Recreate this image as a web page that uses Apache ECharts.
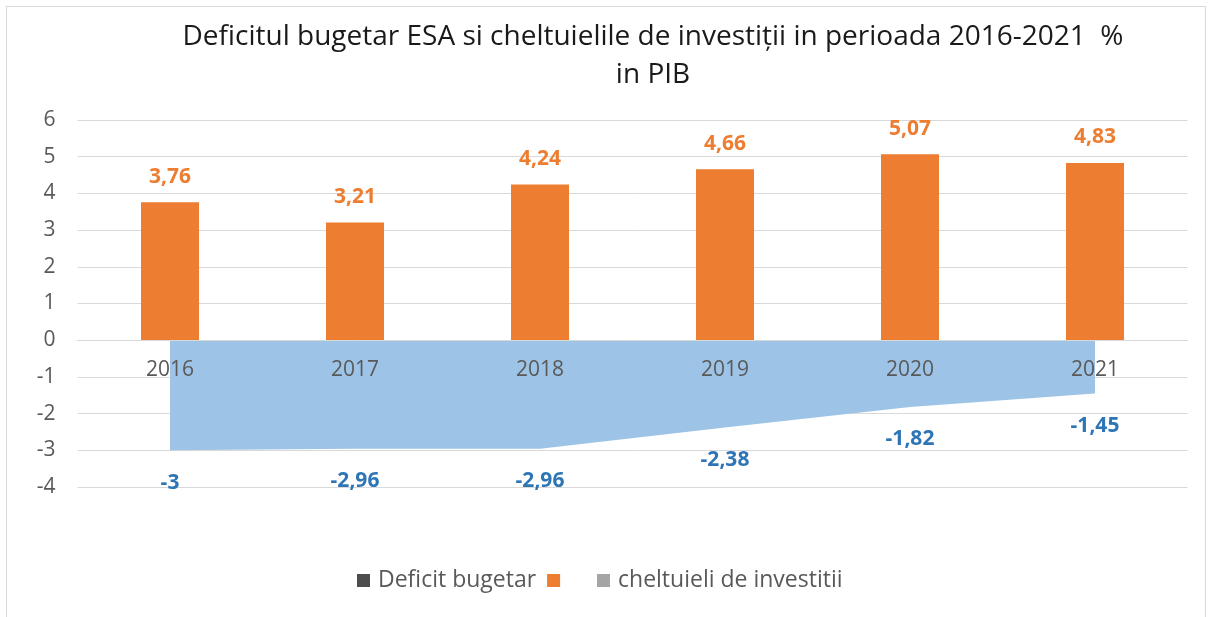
<!DOCTYPE html>
<html>
<head>
<meta charset="utf-8">
<script src="https://cdn.jsdelivr.net/npm/echarts@6/dist/echarts.min.js"></script>
<style>
  html, body { margin: 0; padding: 0; background: #fff; }
  #frame { position: absolute; left: 6px; top: 6px; width: 1200px; height: 620px; border: 1px solid #d9d9d9; box-sizing: border-box; }
  #main { position: absolute; left: 0; top: 0; width: 1210px; height: 617px; }
</style>
</head>
<body>
<div id="frame"></div>
<div id="main"></div>
<script>
// ani
const years = ['2016', '2017', '2018', '2019', '2020', '2021']
const investitii = [3.76, 3.21, 4.24, 4.66, 5.07, 4.83]
const deficit = [-3, -2.96, -2.96, -2.38, -1.82, -1.45]
const yTicks = { min: -4, max: 6, step: 1 }

const fmt = p => String(p.value).replace('.', ',')
const font = '"Open Sans", "Noto Sans", sans-serif'
const gapName = '\u00a0\u00a0\u00a0'

var myChart = echarts.init(document.getElementById('main'))
const option = {
  textStyle: { fontFamily: font },
  title: {
    text: 'Deficitul bugetar ESA si cheltuielile de investiții in perioada 2016-2021  %\nin PIB',
    left: 648,
    textAlign: 'center',
    top: 13,
    textStyle: { fontFamily: font, fontSize: 28, fontWeight: 'normal', color: '#1a1a1a', lineHeight: 38 }
  },
  grid: { left: 77.5, right: 22.5, top: 120, bottom: 130 },
  legend: {
    bottom: 20,
    left: 352,
    itemWidth: 13,
    itemHeight: 13,
    itemGap: 11,
    icon: 'rect',
    textStyle: { fontFamily: font, fontSize: 23, color: '#595959', padding: [0, 0, 0, 3] },
    data: [
      { name: 'Deficit bugetar', itemStyle: { color: '#4d4d4d' } },
      { name: gapName, itemStyle: { color: '#ED7D31' } },
      { name: 'cheltuieli de investitii', itemStyle: { color: '#a5a5a5' } }
    ]
  },
  xAxis: {
    type: 'category',
    data: years,
    z: 10,
    offset: -147,
    axisLine: { onZero: false, lineStyle: { color: '#d9d9d9', width: 1 } },
    axisTick: { show: false },
    axisLabel: { margin: 20, fontSize: 21, color: '#595959', fontFamily: font }
  },
  yAxis: {
    type: 'value',
    min: yTicks.min,
    max: yTicks.max,
    interval: yTicks.step,
    z: 0,
    axisLine: { show: false },
    axisTick: { show: false },
    axisLabel: { margin: 22, fontSize: 21, color: '#595959', fontFamily: font },
    splitLine: { lineStyle: { color: '#d9d9d9', width: 1 } }
  },
  series: [
    {
      name: gapName,
      type: 'bar',
      data: investitii,
      barWidth: 58,
      itemStyle: { color: '#ED7D31' },
      label: {
        show: true, position: 'top', distance: 15, formatter: fmt,
        color: '#ED7D31', fontWeight: 'bold', fontSize: 21, fontFamily: font
      }
    },
    {
      name: 'Deficit bugetar',
      type: 'line',
      data: deficit,
      z: 2,
      showSymbol: true,
      symbolSize: 0,
      lineStyle: { width: 0, color: '#9DC3E6' },
      itemStyle: { color: '#4d4d4d' },
      areaStyle: { color: '#9DC3E6', opacity: 1 },
      label: {
        show: true, position: 'bottom', distance: 22, formatter: fmt,
        color: '#2E75B6', fontWeight: 'bold', fontSize: 21, fontFamily: font
      }
    },
    {
      name: 'cheltuieli de investitii',
      type: 'line',
      data: [],
      itemStyle: { color: '#a5a5a5' }
    }
  ]
}
myChart.setOption(option)
</script>
</body>
</html>
